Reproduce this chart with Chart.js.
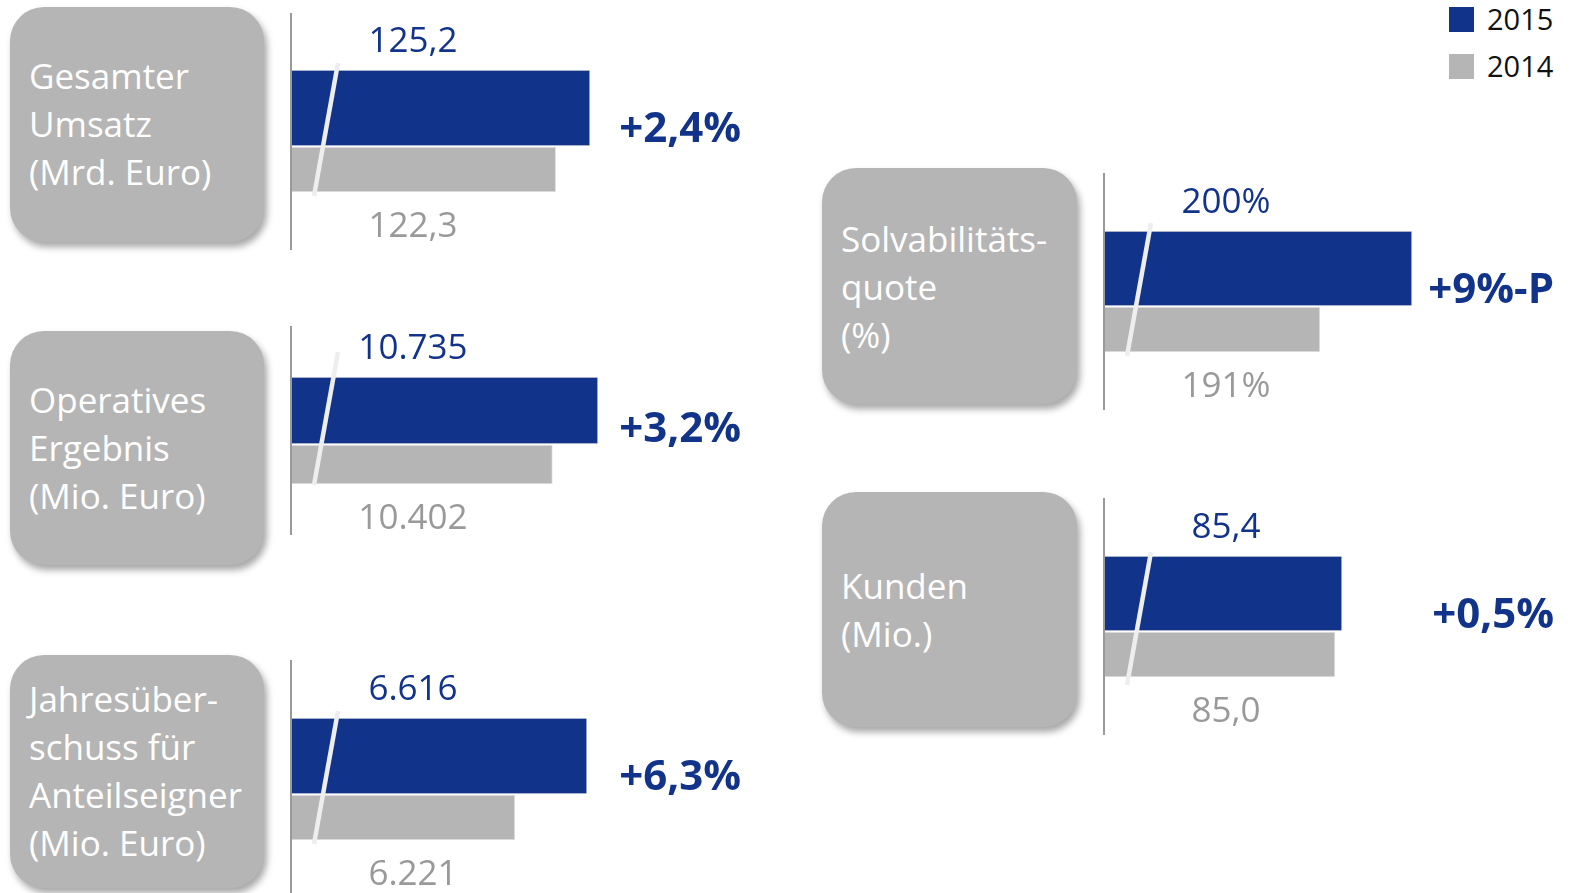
<!DOCTYPE html>
<html lang="de">
<head>
<meta charset="utf-8">
<title>Kennzahlen 2015</title>
<script src="https://cdn.jsdelivr.net/npm/chart.js@4.4.1/dist/chart.umd.min.js"></script>
<style>
    html, body { margin: 0; padding: 0; background: #fff; }
    body { width: 1570px; height: 893px; position: relative; overflow: hidden; font-family: "Open Sans", "Noto Sans", sans-serif; }
    .box {
        position: absolute; background: #b5b5b5; border-radius: 34px;
        box-shadow: 3px 5px 7px rgba(0, 0, 0, 0.35);
    }
    .box-text {
        position: absolute; color: #fff; font-size: 35px; line-height: 48px; white-space: nowrap;
    }
    canvas { position: absolute; }
    .legend-item { position: absolute; left: 1449px; height: 25px; }
    .legend-item span.sq { position: absolute; left: 0; top: 0; width: 25px; height: 25px; }
    .legend-item span.tx { position: absolute; left: 38px; top: -8px; font-size: 29px; line-height: 40px; color: #111; }
</style>
</head>
<body>

<div class="legend-item" style="top:7px"><span class="sq" style="background:#12338a"></span><span class="tx">2015</span></div>
<div class="legend-item" style="top:54px"><span class="sq" style="background:#b5b5b5"></span><span class="tx">2014</span></div>

<script>
// Kennzahlen
const metricLabels = [
    ['Gesamter', 'Umsatz', '(Mrd. Euro)'],
    ['Operatives', 'Ergebnis', '(Mio. Euro)'],
    ['Jahresüber-', 'schuss für', 'Anteilseigner', '(Mio. Euro)'],
    ['Solvabilitäts-', 'quote', '(%)'],
    ['Kunden', '(Mio.)']
];
const values2015 = [125.2, 10735, 6616, 200, 85.4];
const values2014 = [122.3, 10402, 6221, 191, 85.0];
const labels2015 = ['125,2', '10.735', '6.616', '200%', '85,4'];
const labels2014 = ['122,3', '10.402', '6.221', '191%', '85,0'];
const changes = ['+2,4%', '+3,2%', '+6,3%', '+9%-P', '+0,5%'];

// broken value axis: where each scale starts / ends
const axisMin = [100, 8500, 5000, 170, 72];
const axisMax = [138.05, 11787, 7465, 213.97, 97.44];

const BLUE = '#12338a';
const GREY = '#b5b5b5';

// panel positions on the page
const layout = [
    { axisX: 292,  lineTop: 13,  lineBottom: 250, barTop: 70,  th15: 76, th14: 45, slashTop: 63,  box: [10, 7, 254, 235],   textTop: 52 },
    { axisX: 292,  lineTop: 326, lineBottom: 535, barTop: 377, th15: 67, th14: 39, slashTop: 352, box: [10, 331, 254, 234], textTop: 376 },
    { axisX: 292,  lineTop: 660, lineBottom: 893, barTop: 718, th15: 76, th14: 45, slashTop: 711, box: [10, 655, 254, 233], textTop: 675 },
    { axisX: 1105, lineTop: 173, lineBottom: 410, barTop: 231, th15: 75, th14: 45, slashTop: 223, box: [822, 168, 255, 236], textTop: 215 },
    { axisX: 1105, lineTop: 498, lineBottom: 735, barTop: 556, th15: 75, th14: 45, slashTop: 552, box: [822, 492, 255, 235], textTop: 562 }
];

const AREA_W = 450;
const PAD_L = 3;

const decorPlugin = {
    id: 'decor',
    beforeDatasetsDraw(chart, args, opts) {
        const ctx = chart.ctx;
        const left = chart.chartArea.left;
        ctx.save();
        ctx.strokeStyle = '#9a9a9a';
        ctx.lineWidth = 2;
        ctx.beginPath();
        ctx.moveTo(left - 1, 0);
        ctx.lineTo(left - 1, chart.height);
        ctx.stroke();
        ctx.restore();
    },
    afterDatasetsDraw(chart, args, opts) {
        const ctx = chart.ctx;
        const left = chart.chartArea.left;
        const b15 = chart.getDatasetMeta(0).data[0];
        const b14 = chart.getDatasetMeta(1).data[1];
        const top15 = b15.y - b15.height / 2;
        const bottom14 = b14.y + b14.height / 2;

        // axis break
        ctx.save();
        ctx.strokeStyle = '#eeeeee';
        ctx.lineWidth = 4.5;
        ctx.beginPath();
        ctx.moveTo(left + 46, opts.slashTop);
        ctx.lineTo(left + 22, opts.slashTop + 133);
        ctx.stroke();

        ctx.textAlign = 'center';
        ctx.textBaseline = 'alphabetic';
        ctx.font = '35px "Open Sans"';
        ctx.fillStyle = BLUE;
        ctx.fillText(opts.label15, left + 121, top15 - 31 + 12.5);
        ctx.fillStyle = '#999999';
        ctx.fillText(opts.label14, left + 121, bottom14 + 32 + 12.5);

        ctx.textAlign = 'right';
        ctx.font = 'bold 42px "Open Sans"';
        ctx.fillStyle = BLUE;
        const mid = (top15 + bottom14) / 2 - 4;
        ctx.fillText(opts.change, left + 449, mid + 15);
        ctx.restore();
    }
};

layout.forEach((p, i) => {
    // grey label box
    const box = document.createElement('div');
    box.className = 'box';
    box.style.left = p.box[0] + 'px';
    box.style.top = p.box[1] + 'px';
    box.style.width = p.box[2] + 'px';
    box.style.height = p.box[3] + 'px';
    document.body.appendChild(box);

    const txt = document.createElement('div');
    txt.className = 'box-text';
    txt.style.left = (p.box[0] + 19) + 'px';
    txt.style.top = p.textTop + 'px';
    txt.innerHTML = metricLabels[i].join('<br>');
    document.body.appendChild(txt);

    // chart canvas
    const canvas = document.createElement('canvas');
    const w = PAD_L + AREA_W + 20;
    const h = p.lineBottom - p.lineTop;
    canvas.width = w;
    canvas.height = h;
    canvas.style.left = (p.axisX - PAD_L) + 'px';
    canvas.style.top = p.lineTop + 'px';
    canvas.style.width = w + 'px';
    canvas.style.height = h + 'px';
    document.body.appendChild(canvas);

    // category centres so the two bars sit right on top of each other
    const c0 = p.barTop + p.th15 / 2;
    const c1 = p.barTop + p.th15 + 1 + p.th14 / 2;
    const areaH = 2 * (c1 - c0);
    const areaTop = c0 - areaH / 4;
    const padTop = areaTop - p.lineTop;
    const padBottom = p.lineBottom - (areaTop + areaH);

    new Chart(canvas, {
        type: 'bar',
        data: {
            labels: ['2015', '2014'],
            datasets: [
                { label: '2015', data: [values2015[i], null], base: axisMin[i], backgroundColor: BLUE, borderColor: '#dedede', borderWidth: 1, barThickness: p.th15, skipNull: true, clip: false },
                { label: '2014', data: [null, values2014[i]], base: axisMin[i], backgroundColor: GREY, borderColor: '#e6e6e6', borderWidth: 1, barThickness: p.th14, skipNull: true, clip: false }
            ]
        },
        options: {
            indexAxis: 'y',
            responsive: false,
            animation: false,
            events: [],
            layout: { padding: { left: PAD_L, right: 20, top: padTop, bottom: padBottom } },
            scales: {
                x: { min: axisMin[i], max: axisMax[i], display: false },
                y: { display: false, offset: true }
            },
            plugins: {
                legend: { display: false },
                tooltip: { enabled: false },
                decor: { label15: labels2015[i], label14: labels2014[i], change: changes[i], slashTop: p.slashTop - p.lineTop }
            }
        },
        plugins: [decorPlugin]
    });
});
</script>
</body>
</html>
